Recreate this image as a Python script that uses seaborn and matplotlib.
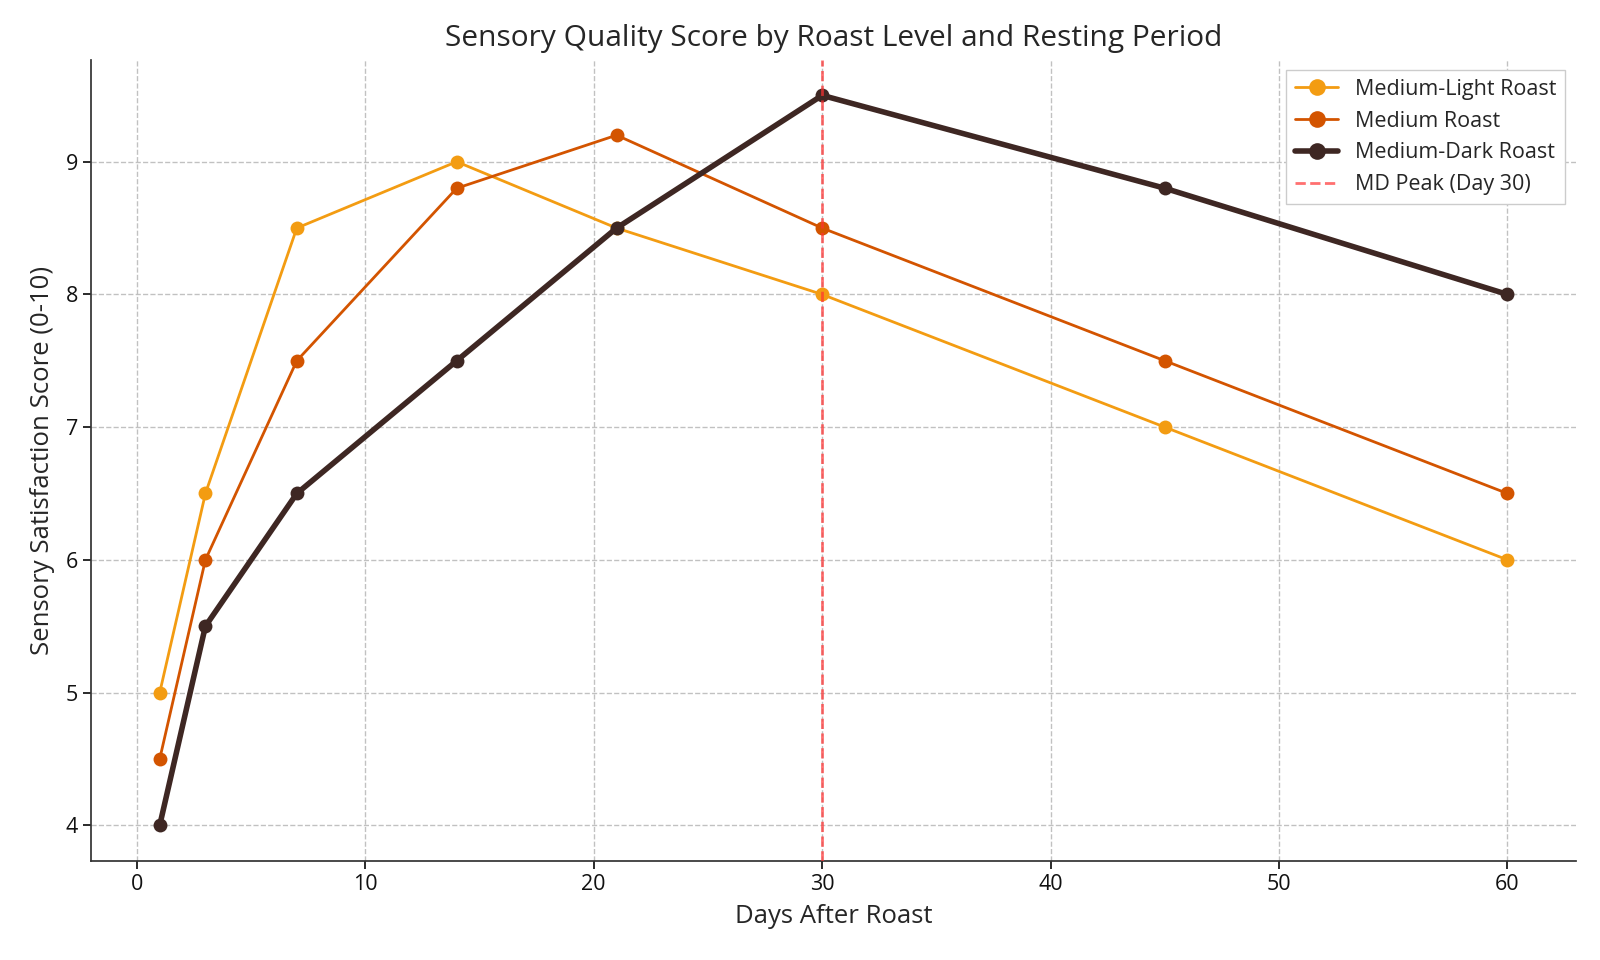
import matplotlib
matplotlib.use("Agg")
import matplotlib.pyplot as plt
import seaborn as sns
import pandas as pd

days = [1, 3, 7, 14, 21, 30, 45, 60]
medium_light = [5.0, 6.5, 8.5, 9.0, 8.5, 8.0, 7.0, 6.0]
medium = [4.5, 6.0, 7.5, 8.8, 9.2, 8.5, 7.5, 6.5]
medium_dark = [4.0, 5.5, 6.5, 7.5, 8.5, 9.5, 8.8, 8.0]
series_names = ["Medium-Light Roast", "Medium Roast", "Medium-Dark Roast"]
peak_day = 30
peak_label = "MD Peak (Day 30)"

sns.set_theme(style="ticks")
plt.rcParams["font.family"] = ["Open Sans", "DejaVu Sans"]

fig, ax = plt.subplots(figsize=(16, 9.6), dpi=100)
fig.subplots_adjust(left=0.057, right=0.985, top=0.938, bottom=0.103)

colors = ["#F39C12", "#D35400", "#3E2723"]
widths = [2, 2, 4]
for name, vals, c, w in zip(series_names, [medium_light, medium, medium_dark], colors, widths):
    df = pd.DataFrame({"Days": days, "Score": vals})
    sns.lineplot(data=df, x="Days", y="Score", ax=ax, color=c, linewidth=w,
                 marker="o", markersize=10, markeredgewidth=0, label=name)

ax.axvline(peak_day, color="#FF3333", linestyle="--", linewidth=2, alpha=0.7, label=peak_label, zorder=5)

ax.grid(True, linestyle="--", color="#bbbbbb", linewidth=1, alpha=0.9)
ax.set_axisbelow(True)
sns.despine(ax=ax)
for s in ["left", "bottom"]:
    ax.spines[s].set_color("#333333")
ax.tick_params(labelsize=15.5, colors="#111111")
ax.set_yticks([4, 5, 6, 7, 8, 9])
ax.set_xticks([0, 10, 20, 30, 40, 50, 60])
ax.set_xlim(-2, 63)
ax.set_ylim(3.73, 9.77)
ax.set_xlabel("Days After Roast", fontsize=18.5, labelpad=6)
ax.set_ylabel("Sensory Satisfaction Score (0-10)", fontsize=18.5, labelpad=8)
ax.set_title("Sensory Quality Score by Roast Level and Resting Period", fontsize=21.5, pad=10)
leg = ax.legend(loc="upper right", fontsize=15.5, frameon=True, fancybox=False,
                edgecolor="#cccccc", markerscale=1.2)
leg.get_frame().set_alpha(1)

fig.savefig("out.png", dpi=100)
